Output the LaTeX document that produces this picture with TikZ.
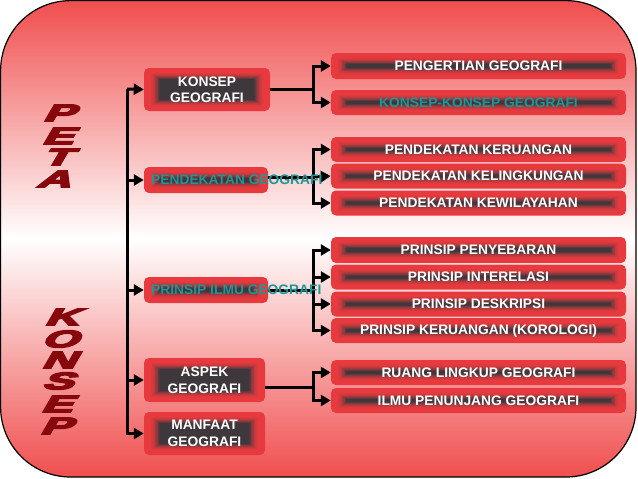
\documentclass[tikz,border=0pt]{standalone}
\usepackage{fontspec}
\setmainfont{Liberation Sans}
\newfontfamily\letterfont[FakeSlant=0.3,FakeBold=6]{Liberation Sans}
\usepackage{xcolor}
\usepackage{graphicx}
\usetikzlibrary{arrows.meta}

\definecolor{bgred}{RGB}{240,78,78}
\definecolor{glowred}{RGB}{232,58,62}
\definecolor{glowdark}{RGB}{62,56,60}
\definecolor{letterred}{RGB}{135,8,12}
\definecolor{labelteal}{RGB}{28,150,150}

% box with a dark glow inside: name, cx, cy, width, height, text
\newcommand{\glowbox}[6]{%
  \pgfmathtruncatemacro{\glowsteps}{#5/2-1}
  \foreach \k in {0,...,\glowsteps}{
    \pgfmathtruncatemacro{\glowmix}{min(100,max(0,\k-3)^2*1.6)}
    \pgfmathsetmacro{\glowround}{max(0.1,5-\k)}
    \fill[glowdark!\glowmix!glowred, rounded corners=\glowround pt]
      (#2-#4/2+1.4*\k,#3-#5/2+\k) rectangle (#2+#4/2-1.4*\k,#3+#5/2-\k);
  }
  \node[boxtext, minimum width=#4, minimum height=#5] (#1) at (#2,#3) {#6};
}
\newcommand{\wideletter}[1]{\scalebox{1.95}[1]{#1}}

\begin{document}
\begin{tikzpicture}[x=1pt,y=-1pt,
    boxtext/.style={inner sep=0pt, text=white, align=center,
      font=\fontsize{13.8}{16.5}\selectfont\bfseries},
    tealtext/.style={inner sep=0pt, text=labelteal,
      font=\fontsize{13.8}{16.5}\selectfont\bfseries},
    bigletter/.style={inner sep=0pt, text=letterred,
      font=\fontsize{24}{24}\selectfont\letterfont\bfseries},
    conn/.style={line width=3pt},
    arr/.style={line width=3pt, -{Triangle[length=10pt,width=11pt]}}]
  \useasboundingbox (0,0) rectangle (638,479);

  % background
  \shade[top color=bgred, bottom color=bgred, middle color=white, rounded corners=70pt]
    (0.6,0.6) rectangle (636,477);
  \draw[line width=1.2pt, rounded corners=70pt] (0.6,0.6) rectangle (636,477);

  % title letters
  \foreach \ch/\x/\y in {P/58/113,E/57/136,T/56/157,A/53/179}
    \node[bigletter] (peta-\ch) at (\x,\y) {\wideletter{\ch}};
  \foreach \ch/\x/\y in {K/61/317,O/59/339,N/58/360,S/57/381,E/56/404,P/55/426}
    \node[bigletter] (konsep-\ch) at (\x,\y) {\wideletter{\ch}};

  % main boxes
  \glowbox{konsep}{207}{89.5}{126}{43}{KONSEP\\GEOGRAFI}
  \glowbox{pendekatan}{206}{180}{124}{26}{}
  \glowbox{prinsip}{206}{290}{124}{26}{}
  \glowbox{aspek}{204.5}{380}{121}{44}{ASPEK\\GEOGRAFI}
  \glowbox{manfaat}{204.5}{433.5}{121}{43}{MANFAAT\\GEOGRAFI}

  % sub boxes
  \glowbox{pengertian}{478.5}{66}{295}{26}{PENGERTIAN GEOGRAFI}
  \glowbox{konsepkonsep}{478.5}{102.5}{295}{25}{}
  \glowbox{keruangan}{478.5}{149.5}{295}{25}{PENDEKATAN KERUANGAN}
  \glowbox{kelingkungan}{478.5}{176}{295}{25}{PENDEKATAN KELINGKUNGAN}
  \glowbox{kewilayahan}{478.5}{203}{295}{25}{PENDEKATAN KEWILAYAHAN}
  \glowbox{penyebaran}{478.5}{250}{295}{26}{PRINSIP PENYEBARAN}
  \glowbox{interelasi}{478.5}{277}{295}{25}{PRINSIP INTERELASI}
  \glowbox{deskripsi}{478.5}{304}{295}{25}{PRINSIP DESKRIPSI}
  \glowbox{korologi}{478.5}{330.5}{295}{25}{PRINSIP KERUANGAN (KOROLOGI)}
  \glowbox{ruanglingkup}{478.5}{372.5}{295}{25}{RUANG LINGKUP GEOGRAFI}
  \glowbox{penunjang}{478.5}{400.5}{295}{25}{ILMU PENUNJANG GEOGRAFI}

  % trunk
  \coordinate (trunk) at (127,89);
  \draw[arr] (trunk) -- (konsep.west);
  \draw[arr] (trunk) |- (pendekatan.west);
  \draw[arr] (trunk) |- (prinsip.west);
  \draw[arr] (trunk) |- (aspek.west);
  \draw[arr] (trunk) |- (manfaat.west);

  % branches
  \draw[conn] (konsep.east) -- ++(43,0) coordinate (kb);
  \draw[arr] (kb) |- (pengertian.west);
  \draw[arr] (kb) |- (konsepkonsep.west);

  \draw[conn] ([yshift=3pt]pendekatan.east) -- ++(45,0) coordinate (pb);
  \draw[arr] (pb) |- (keruangan.west);
  \draw[arr] (pb) -- (kelingkungan.west);
  \draw[arr] (pb) |- (kewilayahan.west);

  \draw[conn] (prinsip.east) -- ++(45,0) coordinate (rb);
  \draw[arr] (rb) |- (penyebaran.west);
  \draw[arr] (rb) |- (interelasi.west);
  \draw[arr] (rb) |- (deskripsi.west);
  \draw[arr] (rb) |- (korologi.west);

  \draw[conn] ([yshift=-7pt]aspek.east) -- ++(48,0) coordinate (ab);
  \draw[arr] (ab) |- (ruanglingkup.west);
  \draw[arr] (ab) |- (penunjang.west);

  % teal labels
  \node[tealtext, anchor=west] (pendekatantext) at (151,180) {PENDEKATAN GEOGRAFI};
  \node[tealtext, anchor=west] (prinsiptext) at (151,290) {PRINSIP ILMU GEOGRAFI};
  \node[tealtext] (konsepkonseptext) at (konsepkonsep) {KONSEP-KONSEP GEOGRAFI};
\end{tikzpicture}
\end{document}
